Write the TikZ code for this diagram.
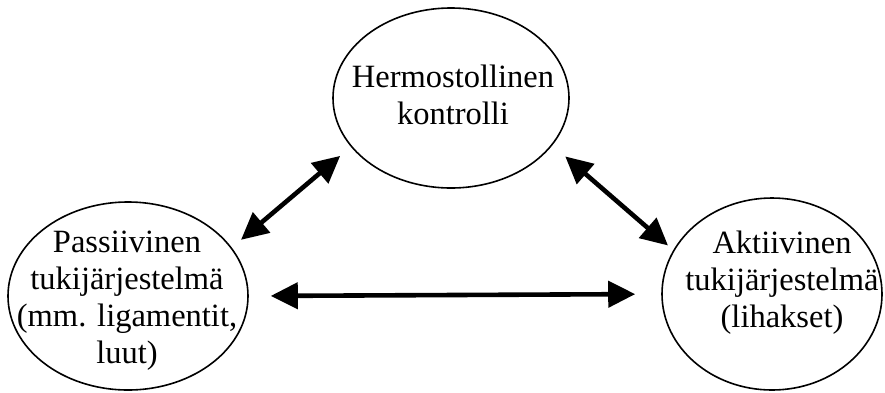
\documentclass[tikz,border=0pt]{standalone}
\usepackage{fontspec}
\setmainfont{Liberation Serif}
\usetikzlibrary{shapes.geometric}
\usetikzlibrary{arrows.meta}

\begin{document}
\begin{tikzpicture}[
  x=1pt, y=-1pt,
  blob/.style={ellipse, draw, line width=1.6pt, inner sep=0pt},
  txt/.style={align=center, inner sep=0pt, font=\fontsize{32.5pt}{37pt}\selectfont},
  link/.style={{Triangle[length=27pt,width=26pt]}-{Triangle[length=27pt,width=26pt]}, line width=4.6pt}
]
\useasboundingbox (0,0) rectangle (885,392);

% Ellipses
\node[blob, minimum width=236pt, minimum height=180pt] (hermo) at (451,98) {};
\node[blob, minimum width=240pt, minimum height=188pt] (passiivi) at (128,296) {};
\node[blob, minimum width=220pt, minimum height=192pt] (aktiivi) at (772,294) {};

% Texts
\node[txt] (hermotxt) at (453,95) {Hermostollinen\\kontrolli};
\node[txt] (passiivitxt) at (127,301) {Passiivinen\\tukijärjestelmä\\(mm. ligamentit,\\luut)};
\node[txt] (aktiivitxt) at (782,283) {Aktiivinen\\tukijärjestelmä\\(lihakset)};

% Arrows
\draw[link, shorten <=12pt, shorten >=14pt] (passiivi.25) -- (hermo.206);
\draw[link, shorten <=17pt, shorten >=7pt] (hermo.335) -- (aktiivi.156);
\draw[link, shorten <=22pt, shorten >=26pt] (passiivi.0) -- (aktiivi.180);

\end{tikzpicture}
\end{document}
